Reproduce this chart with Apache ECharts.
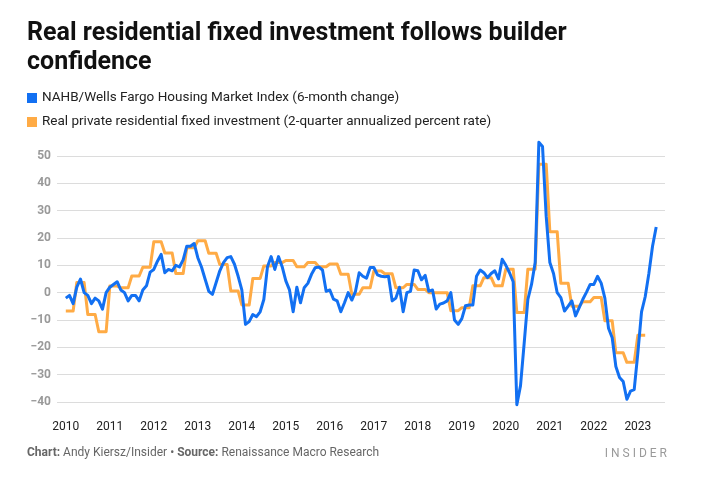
<!DOCTYPE html>
<html><head><meta charset="utf-8">
<script src="https://cdn.jsdelivr.net/npm/echarts@6/dist/echarts.min.js"></script>
<style>html,body{margin:0;padding:0;background:#fff}#c{width:713px;height:485px}</style>
</head><body><div id="c"></div>
<script>
// Year tick labels (each at January of that year)
const yearLabels = ['2010','2011','2012','2013','2014','2015','2016','2017','2018','2019','2020','2021','2022','2023'];

// NAHB/Wells Fargo HMI, 6-month change, monthly from Jan 2010 to Jun 2023
const hmiSixMonthChange = [
  -2, -1, -4, 2, 5, 0, -1, -4, -2, -3, -6, 0,              // 2010
  2, 3, 4, 1, 0, -3, -1, -1, -3, 1, 2.5, 7.5,              // 2011
  8.5, 11.5, 14, 7.3, 8.5, 8, 10, 9.4, 12, 17, 17, 18,     // 2012
  12.8, 9.4, 4.9, 0.5, -0.6, 3.7, 8, 11, 12.8, 13.2, 10.4, 6, // 2013
  1, -11.6, -10.6, -8, -8.8, -7, -2.5, 9.5, 13.2, 8.5, 13.2, 9.5, // 2014
  4.3, 1, -7, 2, -3.7, 1.8, 3.4, 6.7, 9.1, 9.4, 8.3, 0.5,  // 2015
  1, -2.4, -3, -7, -3.7, 0, -2.7, 0.5, 7.3, 6, 5.3, 9.2,   // 2016
  9.2, 6.5, 6, 5.8, 6, -3, -2, 2, -7, 0, 0.5, 8.3,         // 2017
  8, 4.7, 6.3, 0.5, 1, -6, -4.2, -3.8, -3, 0, -10, -11.6,  // 2018
  -9.5, -4.8, -4.5, -4.5, 6, 8.3, 7.3, 5.5, 7, 8, 5, 12.2, // 2019
  10, 7.3, 4, -41, -34, -18.5, -2.5, 3, 11, 55, 53.5, 28,  // 2020
  11, 7, 0, -1.8, -6.7, -4.9, -3, -8.5, -5.5, -2.4, 0.2, 3, // 2021
  3, 6, 3.5, -2, -13, -16.5, -27, -31, -32.5, -39, -36, -35.5, // 2022
  -22, -7, -1.5, 7, 17, 24                                  // 2023
];

// Real private residential fixed investment, 2-quarter annualized % rate, quarterly Q1 2010 to Q1 2023
const residentialInvestmentQuarterly = [
  -6.7, 3.7, -8, -14.3,     // 2010
  2.4, 1.8, 6.1, 9.3,       // 2011
  18.6, 14.5, 7, 16.4,      // 2012
  19, 14.4, 10.3, 0.6,      // 2013
  -4.5, 5.2, 9.8, 11,       // 2014
  11.8, 9.5, 11, 9.5,       // 2015
  10.5, 6.7, -0.6, 1.8,     // 2016
  7.9, 6.9, 1.8, 3,         // 2017
  1.2, 0, 0, -6.6,          // 2018
  -5.5, 2.5, 5.5, 2.5,      // 2019
  8.6, -7.3, 8.6, 47,       // 2020
  22.3, 3.4, -5, -3.3,      // 2021
  -1.8, -10.3, -22, -25.5,  // 2022
  -15.6                     // 2023
];

const seriesNames = [
  'NAHB/Wells Fargo Housing Market Index (6-month change)',
  'Real private residential fixed investment (2-quarter annualized percent rate)'
];

// month index 0 = Jan 2010
const hmiData = hmiSixMonthChange.map((v, i) => [i, v]);
const invData = [];
residentialInvestmentQuarterly.forEach((v, q) => {
  for (let k = 0; k < 3; k++) invData.push([q * 3 + k, v]);
});

const chart = echarts.init(document.getElementById('c'), null, {renderer: 'canvas'});
chart.setOption({
  animation: false,
  backgroundColor: '#fff',
  textStyle: {fontFamily: 'Roboto'},
  title: {
    text: 'Real residential fixed investment follows builder\nconfidence',
    left: 27, top: 19, padding: 0,
    textStyle: {fontSize: 25, fontWeight: 'bold', color: '#111', lineHeight: 29, fontFamily: 'Roboto'}
  },
  legend: {
    orient: 'vertical', left: 27, top: 90, padding: 0,
    icon: 'rect', itemWidth: 10, itemHeight: 10, itemGap: 8,
    data: seriesNames,
    textStyle: {fontSize: 13.5, color: '#222', lineHeight: 16, fontFamily: 'Roboto'}
  },
  grid: {left: 57, right: 48, top: 156, bottom: 83},
  xAxis: {
    type: 'value', min: -2.4, max: 163.4,
    axisLine: {show: false}, axisTick: {show: false}, splitLine: {show: false},
    axisLabel: {
      customValues: yearLabels.map((_, i) => i * 12),
      formatter: v => yearLabels[Math.round(v / 12)],
      color: '#222', fontSize: 12, margin: 19
    }
  },
  yAxis: {
    type: 'value', min: -40, max: 50, interval: 10,
    axisLine: {show: false}, axisTick: {show: false},
    axisLabel: {
      formatter: v => (v < 0 ? '\u2212' + Math.abs(v) : String(v)),
      color: '#999', fontSize: 12, fontWeight: 'bold', margin: 6
    },
    splitLine: {lineStyle: {color: '#dcdcdc', width: 1}}
  },
  series: [
    {
      name: seriesNames[1], type: 'line', data: invData, showSymbol: false, symbol: 'none',
      clip: false, color: '#ffab45',
      lineStyle: {width: 3, color: '#ffab45', join: 'round'}
    },
    {
      name: seriesNames[0], type: 'line', data: hmiData, showSymbol: false, symbol: 'none',
      clip: false, color: '#1270f2',
      lineStyle: {width: 3, color: '#1270f2', join: 'round'}
    }
  ],
  graphic: [
    {
      type: 'text', left: 27, top: 447,
      style: {
        text: '{b|Chart:} Andy Kiersz/Insider • {b|Source:} Renaissance Macro Research',
        fill: '#666', font: '12px Roboto',
        rich: {b: {fontWeight: 'bold', fill: '#666', fontSize: 12, fontFamily: 'Roboto'}}
      }
    },
    {
      type: 'text', right: 46, top: 448,
      style: {text: 'I N S I D E R', fill: '#9a9a9a', font: '12px Roboto'}
    }
  ]
});
</script>
</body></html>
